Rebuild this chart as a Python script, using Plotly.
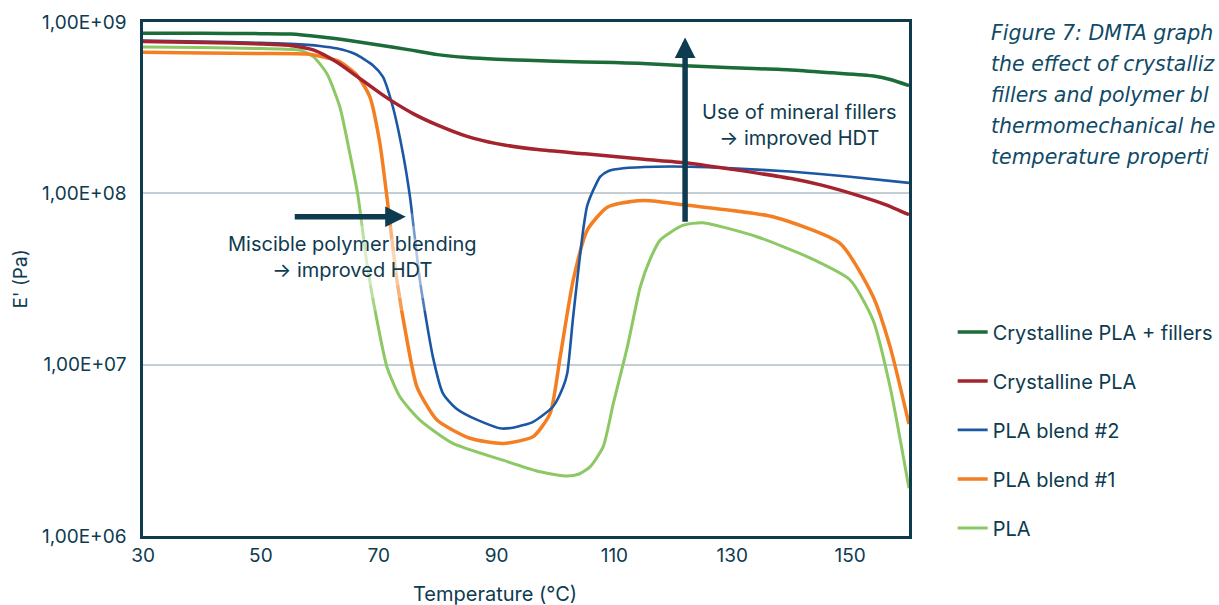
import plotly.graph_objects as go

# Storage modulus E' (Pa) versus temperature (°C) from DMTA runs
temp_pla = [30, 40, 50, 56.6, 58.9, 61.2, 63.4, 65.1, 66.5, 68, 69.7, 71.4, 73.6, 77, 82.6,
            91.1, 97.4, 102, 104, 105.9, 108.1, 109.8, 112.2, 114.4, 116, 117.8, 121.6, 125,
            134.2, 142.7, 150, 153.9, 156.8, 160]
e_pla = [7.15e8, 7.1e8, 7.0e8, 6.85e8, 6.28e8, 5.0e8, 3.2e8, 1.71e8, 9.6e7, 3.9e7, 1.82e7,
         9.7e6, 6.5e6, 4.75e6, 3.47e6, 2.77e6, 2.37e6, 2.24e6, 2.3e6, 2.54e6, 3.32e6, 5.9e6,
         1.27e7, 2.85e7, 4.08e7, 5.35e7, 6.5e7, 6.74e7, 5.58e7, 4.27e7, 3.12e7, 1.82e7, 7.4e6,
         1.9e6]

temp_blend1 = [30, 40, 50, 57.8, 61, 63.4, 66.3, 68.5, 70.2, 71.4, 73.1, 74.8, 76.5, 79.9,
               85.5, 91.1, 96.2, 99.1, 100.8, 103, 105.4, 108.8, 113.2, 116, 122, 136.9,
               148.3, 153.9, 156.8, 160]
e_blend1 = [6.65e8, 6.6e8, 6.55e8, 6.5e8, 6.2e8, 5.86e8, 4.9e8, 3.66e8, 1.96e8, 9.5e7,
            3.1e7, 1.39e7, 7.4e6, 4.75e6, 3.72e6, 3.47e6, 3.8e6, 5.2e6, 1.11e7, 3.1e7,
            6.1e7, 8.3e7, 9.0e7, 9.05e7, 8.55e7, 7.3e7, 5.1e7, 2.5e7, 1.27e7, 4.5e6]

temp_blend2 = [30, 40, 50, 55, 60, 63, 66, 69, 70.7, 72.4, 74.1, 75.3, 77, 79.2, 80.9, 83,
               85.5, 90.6, 93, 96.2, 99.6, 101.3, 102, 103, 104.7, 105.4, 107, 107.6, 109,
               111.5, 117, 122.8, 130, 139.8, 150, 160]
e_blend2 = [7.8e8, 7.7e8, 7.55e8, 7.45e8, 7.25e8, 7.0e8, 6.5e8, 5.6e8, 4.8e8, 3.2e8, 1.72e8,
            9.6e7, 3.1e7, 1.11e7, 6.8e6, 5.6e6, 4.97e6, 4.25e6, 4.3e6, 4.64e6, 5.7e6, 7.4e6,
            8.9e6, 1.9e7, 6.1e7, 8.5e7, 1.15e8, 1.25e8, 1.35e8, 1.40e8, 1.43e8, 1.43e8,
            1.40e8, 1.34e8, 1.25e8, 1.15e8]

temp_cryst = [30, 40, 50, 55, 59, 63, 66, 70, 72, 76, 80, 85, 90, 97, 105, 115, 122, 130,
              140, 145, 151, 156, 160]
e_cryst = [7.7e8, 7.6e8, 7.45e8, 7.3e8, 6.85e8, 5.8e8, 4.9e8, 3.9e8, 3.5e8, 2.9e8, 2.5e8,
           2.15e8, 1.95e8, 1.8e8, 1.7e8, 1.58e8, 1.51e8, 1.38e8, 1.22e8, 1.12e8, 9.8e7,
           8.6e7, 7.5e7]

temp_fill = [30, 40, 50, 55, 60, 65, 70, 75, 80, 85, 90, 100, 110, 114, 122, 130, 140, 147,
             154, 157, 160]
e_fill = [8.6e8, 8.6e8, 8.55e8, 8.5e8, 8.2e8, 7.8e8, 7.35e8, 6.9e8, 6.45e8, 6.2e8, 6.06e8,
          5.9e8, 5.8e8, 5.74e8, 5.56e8, 5.4e8, 5.25e8, 5.05e8, 4.84e8, 4.6e8, 4.25e8]

# (name, x, y, colour, width, legend position)
series = [
    ("PLA", temp_pla, e_pla, "#8cc863", 3, 5),
    ("PLA blend #1", temp_blend1, e_blend1, "#f47f22", 3.5, 4),
    ("PLA blend #2", temp_blend2, e_blend2, "#1b57a3", 2.6, 3),
    ("Crystalline PLA", temp_cryst, e_cryst, "#a4232f", 3.5, 2),
    ("Crystalline PLA + fillers", temp_fill, e_fill, "#1b6c38", 3.5, 1),
]

y_ticks = [1e6, 1e7, 1e8, 1e9]
y_tick_text = ["1,00E+06", "1,00E+07", "1,00E+08", "1,00E+09"]
x_ticks = [30, 50, 70, 90, 110, 130, 150]

caption_lines = ["Figure 7: DMTA graph", "the effect of crystalliz", "fillers and polymer bl",
                 "thermomechanical he", "temperature properti"]

INK = "#0e3b4f"
FONT = "Inter, 'Open Sans', sans-serif"

# plot area in pixels, used to place paper-anchored labels
L, R, T, B = 143, 909, 22, 536


def px_x(x):
    return (x - L) / (R - L)


def px_y(y):
    return (B - y) / (B - T)


fig = go.Figure()
for name, t, e, color, width, rank in series:
    fig.add_trace(go.Scatter(
        x=t, y=e, mode="lines", name=name, legendgroup=name, legendrank=rank,
        line=dict(color=color, width=width, shape="spline", smoothing=0.6),
    ))

# soft white haze behind the blending label
for half, op in [(0.095, 0.22), (0.07, 0.25), (0.045, 0.27), (0.022, 0.27)]:
    fig.add_shape(type="rect", xref="paper", yref="paper",
                  x0=0.09, x1=0.45, y0=0.533 - half, y1=0.533 + half,
                  fillcolor="white", opacity=op, line_width=0, layer="above")

# arrows
fig.add_annotation(x=74.6, y=7.863, ax=55.5, ay=7.863, xref="x", yref="y",
                   axref="x", ayref="y", showarrow=True, arrowhead=2, arrowsize=0.75,
                   arrowwidth=5.5, arrowcolor=INK, standoff=0, text="")
fig.add_annotation(x=122, y=8.91, ax=122, ay=7.826, xref="x", yref="y",
                   axref="x", ayref="y", showarrow=True, arrowhead=2, arrowsize=0.75,
                   arrowwidth=5.5, arrowcolor=INK, standoff=0, text="")

fig.add_annotation(x=65.5, y=7.63, xref="x", yref="y", showarrow=False,
                   text="Miscible polymer blending<br>→ improved HDT",
                   font=dict(family=FONT, size=20, color=INK), align="center")
fig.add_annotation(x=141.5, y=8.40, xref="x", yref="y", showarrow=False,
                   text="Use of mineral fillers<br>→ improved HDT",
                   font=dict(family=FONT, size=20, color=INK), align="center")

# x-axis title, set slightly left of centre
fig.add_annotation(x=px_x(495), y=px_y(594), xref="paper", yref="paper", showarrow=False,
                   xanchor="center", yanchor="middle",
                   text="Temperature (°C)", font=dict(family=FONT, size=20, color=INK))

# caption, one line per annotation for wide line spacing
for i, line in enumerate(caption_lines):
    fig.add_annotation(x=px_x(989), y=px_y(33 + 31 * i), xref="paper", yref="paper",
                       showarrow=False, xanchor="left", yanchor="middle", align="left",
                       text="<i>" + line + "</i>",
                       font=dict(family="DejaVu Sans", size=20.5, color="#0f4a66"))

fig.update_layout(
    width=1219, height=605,
    margin=dict(l=L, r=1219 - R, t=T, b=605 - B, autoexpand=False),
    paper_bgcolor="white", plot_bgcolor="white",
    font=dict(family=FONT, color=INK, size=19),
    showlegend=True,
    legend=dict(x=1.057, y=0.435, xanchor="left", yanchor="top",
                traceorder="grouped", tracegroupgap=20,
                font=dict(family=FONT, size=20, color=INK),
                bgcolor="rgba(0,0,0,0)", itemwidth=30),
    xaxis=dict(range=[30, 160], tickvals=x_ticks, showgrid=False, zeroline=False,
               showline=True, linecolor=INK, linewidth=2.5, mirror=True, ticks="",
               automargin=False, tickfont=dict(size=19, color=INK)),
    yaxis=dict(type="log", range=[6, 9], tickvals=y_ticks, ticktext=y_tick_text,
               showgrid=True, gridcolor="#c3cfd5", gridwidth=1.5, zeroline=False,
               showline=True, linecolor=INK, linewidth=2.5, mirror=True, ticks="",
               automargin=False, ticklabelstandoff=10, tickfont=dict(size=19, color=INK),
               title=dict(text="E' (Pa)", font=dict(size=19, color=INK), standoff=10)),
)

fig.write_html("out.html")
